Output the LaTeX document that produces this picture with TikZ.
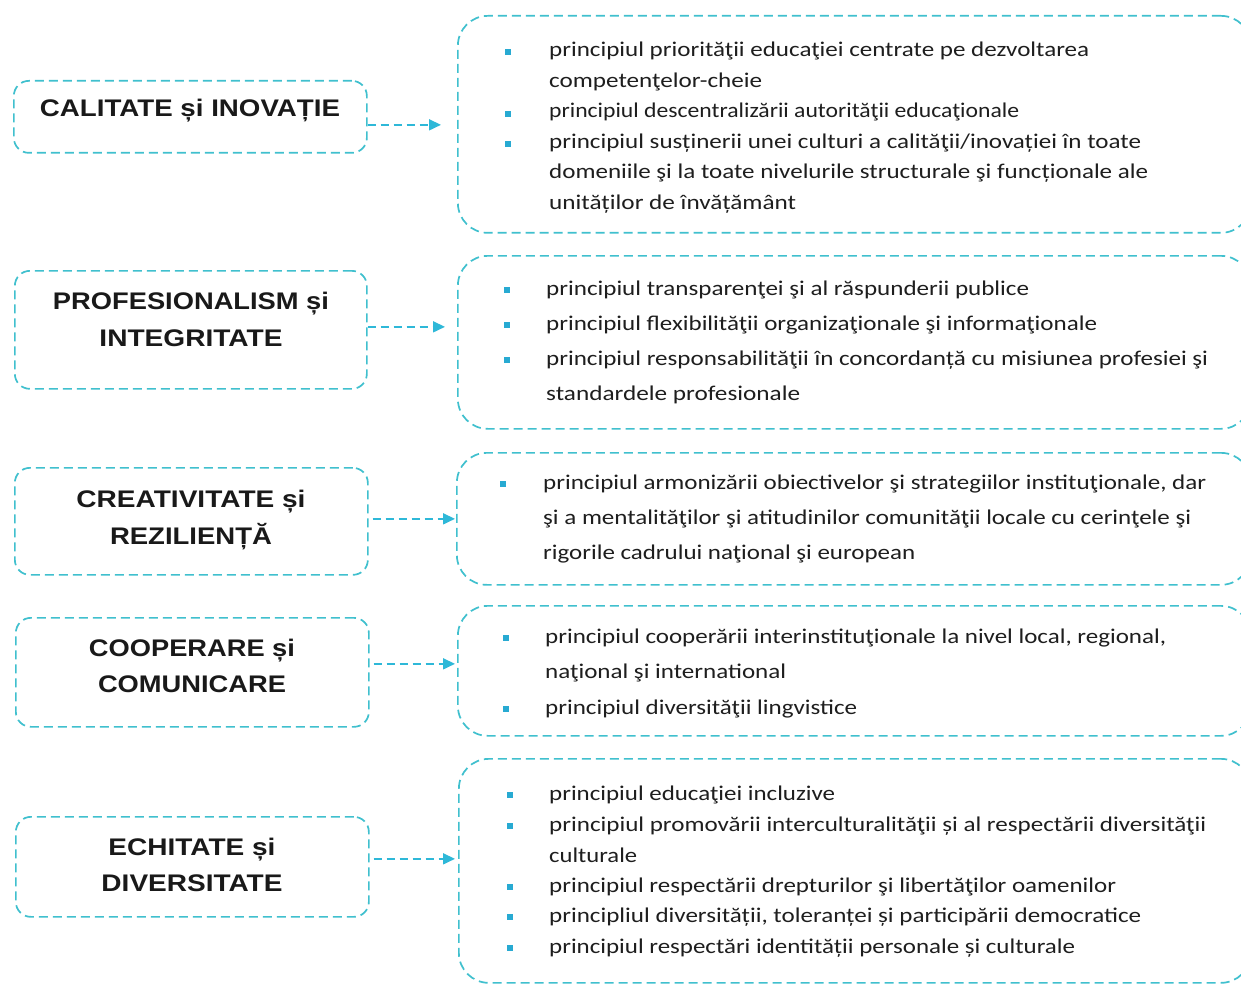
\documentclass[tikz,border=0pt]{standalone}
\usepackage{fontspec}
\setmainfont{Carlito}
\newfontfamily\lbfont{Liberation Sans}
\usetikzlibrary{arrows.meta}
\definecolor{boxc}{RGB}{64,192,206}
\definecolor{arrc}{RGB}{46,184,216}
\definecolor{bulc}{RGB}{40,170,210}
\definecolor{txtc}{RGB}{30,30,30}
\newcommand\pline[5]{\node[ptxt] (#1) at (#2,#3) {\resizebox{#4pt}{\height}{#5}};}
\newcommand\pbul[3]{\node[bul] (#1) at (#2,#3) {};}
\newcommand\plbl[5]{\node[lbl] (#1) at (#2,#3) {\resizebox{#4pt}{\height}{#5}};}
\tikzset{
 lbox/.style={draw=boxc, line width=1.7pt, dash pattern=on 9pt off 5pt, rounded corners=15pt, rectangle, inner sep=0pt, anchor=north west},
 rbox/.style={draw=boxc, line width=1.7pt, dash pattern=on 9pt off 5pt, rounded corners=30pt, rectangle, inner sep=0pt, anchor=north west},
 lbl/.style={font=\lbfont\bfseries\fontsize{24}{28}\selectfont, text=black!90, anchor=base, inner sep=0pt},
 ptxt/.style={font=\fontsize{21}{25}\selectfont, text=txtc, anchor=base west, inner sep=0pt},
 bul/.style={fill=bulc, minimum size=5.5pt, inner sep=0pt, rectangle},
 arr/.style={draw=arrc, line width=1.7pt, dash pattern=on 8pt off 5pt, -{Triangle[length=12pt,width=11pt]}}
}
\begin{document}
\begin{tikzpicture}[x=1pt,y=-1pt]
\useasboundingbox (0,0) rectangle (1241,984);
\clip (0,0) rectangle (1241,984);
\fill[white] (0,0) rectangle (1241,984);
% left boxes
\node[lbox, minimum width=353pt, minimum height=72pt] (lb1) at (13,80) {};
\node[lbox, minimum width=352pt, minimum height=118pt] (lb2) at (14,270) {};
\node[lbox, minimum width=353pt, minimum height=107pt] (lb3) at (14,467) {};
\node[lbox, minimum width=353pt, minimum height=109pt] (lb4) at (15,617) {};
\node[lbox, minimum width=353pt, minimum height=100pt] (lb5) at (15,816) {};
% labels
\plbl{l1}{190}{117}{300}{CALITATE și INOVAȚIE}
\plbl{l2a}{191}{309}{276}{PROFESIONALISM și}
\plbl{l2b}{191}{346}{183}{INTEGRITATE}
\plbl{l3a}{191}{507}{229}{CREATIVITATE și}
\plbl{l3b}{191}{544}{162}{REZILIENȚĂ}
\plbl{l4a}{192}{656}{206}{COOPERARE și}
\plbl{l4b}{192}{692}{188}{COMUNICARE}
\plbl{l5a}{192}{855}{167}{ECHITATE și}
\plbl{l5b}{192}{891}{181}{DIVERSITATE}
% right boxes
\node[rbox, minimum width=793pt, minimum height=217pt] (rb1) at (457,15) {};
\node[rbox, minimum width=793pt, minimum height=173pt] (rb2) at (457,255) {};
\node[rbox, minimum width=794pt, minimum height=132pt] (rb3) at (456,452) {};
\node[rbox, minimum width=793pt, minimum height=130pt] (rb4) at (457,605) {};
\node[rbox, minimum width=792pt, minimum height=224pt] (rb5) at (458,758) {};
% arrows
\draw[arr, shorten >=16pt] ([yshift=-8pt]lb1.east) -- ([yshift=-8pt]lb1.east -| rb1.west);
\draw[arr, shorten >=12pt] ([yshift=3pt]lb2.east) -- ([yshift=3pt]lb2.east -| rb2.west);
\draw[arr, shorten >=1pt] ([yshift=2.5pt,xshift=4pt]lb3.east) -- ([yshift=2.5pt]lb3.east -| rb3.west);
\draw[arr, shorten >=2pt] ([yshift=8.5pt,xshift=4pt]lb4.east) -- ([yshift=8.5pt]lb4.east -| rb4.west);
\draw[arr, shorten >=3pt] ([yshift=8pt,xshift=4pt]lb5.east) -- ([yshift=8pt]lb5.east -| rb5.west);
% box 1
\pbul{b11}{508}{52}\pbul{b12}{508}{114}\pbul{b13}{508}{144}
\pline{t11}{549}{57}{540}{principiul priorităţii educaţiei centrate pe dezvoltarea}
\pline{t12}{549}{88}{213}{competenţelor-cheie}
\pline{t13}{549}{118}{470}{principiul descentralizării autorităţii educaţionale}
\pline{t14}{549}{149}{592}{principiul susținerii unei culturi a calităţii/inovației în toate}
\pline{t15}{549}{179}{599}{domeniile şi la toate nivelurile structurale şi funcționale ale}
\pline{t16}{549}{210}{247}{unităților de învățământ}
% box 2
\pbul{b21}{507}{290}\pbul{b22}{507}{325}\pbul{b23}{507}{360}
\pline{t21}{546}{295}{483}{principiul transparenţei şi al răspunderii publice}
\pline{t22}{546}{330}{551}{principiul flexibilităţii organizaţionale şi informaţionale}
\pline{t23}{546}{365}{662}{principiul responsabilităţii în concordanță cu misiunea profesiei şi}
\pline{t24}{546}{400}{254}{standardele profesionale}
% box 3
\pbul{b31}{503}{484}
\pline{t31}{543}{489}{663}{principiul armonizării obiectivelor şi strategiilor instituţionale, dar}
\pline{t32}{543}{524}{648}{şi a mentalităţilor şi atitudinilor comunităţii locale cu cerinţele şi}
\pline{t33}{543}{559}{372}{rigorile cadrului naţional şi european}
% box 4
\pbul{b41}{506}{638}\pbul{b42}{506}{709}
\pline{t41}{545}{643}{621}{principiul cooperării interinstituţionale la nivel local, regional,}
\pline{t42}{545}{678}{241}{naţional şi international}
\pline{t43}{545}{714}{312}{principiul diversităţii lingvistice}
% box 5
\pbul{b51}{510}{795}\pbul{b52}{510}{826}\pbul{b53}{510}{887}\pbul{b54}{510}{917}\pbul{b55}{510}{948}
\pline{t51}{549}{800}{286}{principiul educaţiei incluzive}
\pline{t52}{549}{831}{657}{principiul promovării interculturalităţii și al respectării diversităţii}
\pline{t53}{549}{862}{88}{culturale}
\pline{t54}{549}{892}{567}{principiul respectării drepturilor şi libertăţilor oamenilor}
\pline{t55}{549}{922}{592}{principliul diversității, toleranței și participării democratice}
\pline{t56}{549}{953}{526}{principiul respectări identității personale și culturale}
\end{tikzpicture}
\end{document}
